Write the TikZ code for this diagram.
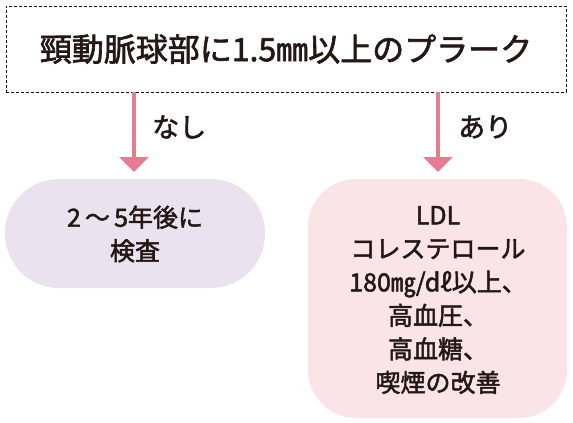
\documentclass[tikz,border=0pt]{standalone}
\usepackage{fontspec}
\setmainfont{Noto Sans CJK JP}
\newfontfamily\medfont{Noto Sans CJK JP}[FakeBold=2]
\usetikzlibrary{arrows.meta}
\definecolor{arrowpink}{HTML}{E77C90}
\definecolor{lavender}{HTML}{EAE3EF}
\definecolor{lightpink}{HTML}{FAE4E7}
\definecolor{ink}{HTML}{231815}
\begin{document}
\begin{tikzpicture}[x=1pt,y=-1pt,
  every node/.style={text=ink, inner sep=0pt},
  flow/.style={draw=arrowpink, line width=4pt, -{Triangle[width=29pt,length=15pt]}},
  lbl/.style={font=\medfont\fontsize{27}{30}\selectfont, anchor=west},
  body/.style={font=\medfont\fontsize{25}{33.5}\selectfont, align=center}]
\useasboundingbox (0,0) rectangle (573,423);
\node[draw=black, dash pattern=on 3pt off 2pt, line width=0.7pt, minimum width=560pt, minimum height=86pt, font=\medfont\fontsize{32}{36}\selectfont] (top) at (286,49) {頸動脈球部に1.5㎜以上のプラーク};
\fill[lavender, rounded corners=54pt] (5,179) rectangle (265,288);
\node (left) at (135,233) {};
\fill[lightpink, rounded corners=48pt] (308,179) rectangle (567,418);
\node (right) at (438,298) {};
\node[body] (lt) at (135,234) {2\,～\,5年後に\\検査};
\node[body] (rt) at (438,300) {LDL\\コレステロール\\180㎎/dℓ以上、\\高血圧、\\高血糖、\\喫煙の改善};
\coordinate (a1s) at (134,92);
\coordinate (a1e) at (134,172);
\coordinate (a2s) at (438,92);
\coordinate (a2e) at (438,172);
\draw[flow] (a1s) -- (a1e);
\draw[flow] (a2s) -- (a2e);
\node[lbl] (nashi) at (152,127) {なし};
\node[lbl] (ari) at (458,127) {あり};
\end{tikzpicture}
\end{document}
